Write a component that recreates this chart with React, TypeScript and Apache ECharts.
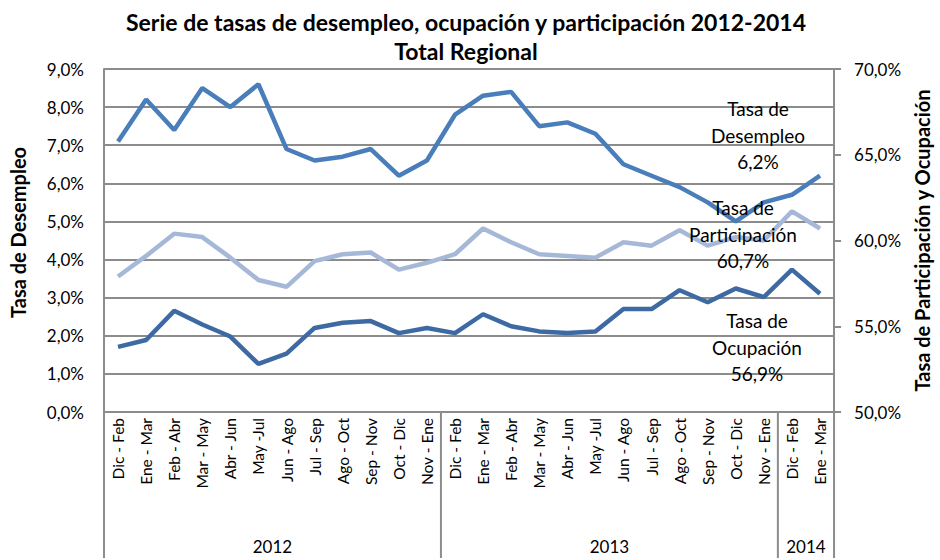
import React, { useEffect, useRef } from "react";
import * as echarts from "echarts";

const categories = [
  "Dic - Feb", "Ene - Mar", "Feb - Abr", "Mar - May", "Abr - Jun", "May -Jul",
  "Jun - Ago", "Jul - Sep", "Ago - Oct", "Sep - Nov", "Oct - Dic", "Nov - Ene",
  "Dic - Feb", "Ene - Mar", "Feb - Abr", "Mar - May", "Abr - Jun", "May -Jul",
  "Jun - Ago", "Jul - Sep", "Ago - Oct", "Sep - Nov", "Oct - Dic", "Nov - Ene",
  "Dic - Feb", "Ene - Mar",
];
const years = ["2012", "2013", "2014"];
const yearSpans = [12, 12, 2];

const desempleo = [7.1, 8.2, 7.4, 8.5, 8.0, 8.6, 6.9, 6.6, 6.7, 6.9, 6.2, 6.6, 7.8, 8.3, 8.4, 7.5, 7.6, 7.3, 6.5, 6.2, 5.9, 5.5, 5.0, 5.5, 5.7, 6.2];
const participacion = [57.9, 59.1, 60.4, 60.2, 59.0, 57.7, 57.3, 58.8, 59.2, 59.3, 58.3, 58.7, 59.2, 60.7, 59.9, 59.2, 59.1, 59.0, 59.9, 59.7, 60.6, 59.7, 60.2, 60.0, 61.7, 60.7];
const ocupacion = [53.8, 54.2, 55.9, 55.1, 54.4, 52.8, 53.4, 54.9, 55.2, 55.3, 54.6, 54.9, 54.6, 55.7, 55.0, 54.7, 54.6, 54.7, 56.0, 56.0, 57.1, 56.4, 57.2, 56.7, 58.3, 56.9];

const FONT = "Lato, 'Open Sans', sans-serif";
const GRAY = "#8c8c8c";
const fmt = (v: number) => v.toFixed(1).replace(".", ",") + "%";

export default function App() {
  const ref = useRef<HTMLDivElement>(null);
  useEffect(() => {
    if (!ref.current) return;
    const chart = echarts.init(ref.current, null, { renderer: "svg" });
    const option: any = {
      animation: false,
      backgroundColor: "#ffffff",
      title: {
        text: "Serie de tasas de desempleo, ocupación y participación 2012-2014\nTotal Regional",
        left: 461,
        top: 2,
        textAlign: "center",
        textStyle: { fontFamily: FONT, fontWeight: "bold", fontSize: 23, color: "#000", lineHeight: 29 },
      },
      grid: { left: 104, right: 93, top: 69, bottom: 148, containLabel: false },
      xAxis: {
        type: "category",
        data: categories,
        boundaryGap: true,
        axisLine: { show: true, lineStyle: { color: GRAY, width: 2 } },
        axisTick: { show: false },
        axisLabel: { rotate: 90, margin: 6, fontFamily: FONT, fontSize: 15.5, color: "#000", interval: 0 },
        splitLine: { show: false },
      },
      yAxis: [
        {
          type: "value",
          min: 0, max: 9, interval: 1,
          name: "Tasa de Desempleo",
          nameLocation: "middle",
          nameGap: 76,
          nameRotate: 90,
          nameTextStyle: { fontFamily: FONT, fontWeight: "bold", fontSize: 20, color: "#000", padding: [0, 0, 0, 16] },
          axisLine: { show: true, lineStyle: { color: GRAY, width: 2 } },
          axisTick: { show: false },
          axisLabel: { formatter: fmt, fontFamily: FONT, fontSize: 17, color: "#000", margin: 20 },
          splitLine: { show: true, lineStyle: { color: GRAY, width: 2 } },
        },
        {
          type: "value",
          min: 50, max: 70, interval: 5,
          position: "right",
          name: "Tasa de Participación y Ocupación",
          nameLocation: "middle",
          nameGap: 76,
          nameRotate: 90,
          nameTextStyle: { fontFamily: FONT, fontWeight: "bold", fontSize: 20, color: "#000", padding: [0, 0, 8, 0] },
          axisLine: { show: true, lineStyle: { color: GRAY, width: 2 } },
          axisTick: { show: true, inside: false, length: 7, lineStyle: { color: GRAY, width: 2 } },
          axisLabel: { formatter: fmt, fontFamily: FONT, fontSize: 17, color: "#000", margin: 20 },
          splitLine: { show: false },
        },
      ],
      series: [
        {
          name: "Tasa de Participación",
          type: "line",
          yAxisIndex: 1,
          data: participacion,
          symbol: "none",
          lineStyle: { color: "#a6b8d8", width: 4.5 },
          z: 2,
        },
        {
          name: "Tasa de Ocupación",
          type: "line",
          yAxisIndex: 1,
          data: ocupacion,
          symbol: "none",
          lineStyle: { color: "#3e6aa3", width: 4.5 },
          z: 3,
        },
        {
          name: "Tasa de Desempleo",
          type: "line",
          yAxisIndex: 0,
          data: desempleo,
          symbol: "none",
          lineStyle: { color: "#4a7ebb", width: 4.5 },
          z: 4,
        },
      ],
    };
    chart.setOption(option);

    // Build group separators and year labels from the axis scale
    const px = (i: number) => chart.convertToPixel({ xAxisIndex: 0 }, i) as number;
    const step = px(1) - px(0);
    const boundaries: number[] = [];
    let acc = 0;
    boundaries.push(px(0) - step / 2);
    yearSpans.forEach((s) => {
      acc += s;
      boundaries.push(px(acc - 1) + step / 2);
    });
    const axisY = chart.convertToPixel({ yAxisIndex: 0 }, 0) as number;
    const bottomY = 558;
    const graphics: any[] = [];
    boundaries.forEach((bx) => {
      graphics.push({
        type: "line",
        shape: { x1: bx, y1: axisY, x2: bx, y2: bottomY },
        style: { stroke: GRAY, lineWidth: 2 },
        z: 10,
      });
    });
    years.forEach((y, k) => {
      const cx = (boundaries[k] + boundaries[k + 1]) / 2;
      graphics.push({
        type: "text",
        x: cx,
        y: 546,
        style: { text: y, fontFamily: FONT, fontSize: 17, fill: "#000", align: "center", verticalAlign: "middle" },
        z: 10,
      });
    });
    const labelStyle = { fontFamily: FONT, fontSize: 19, fill: "#000", align: "center", verticalAlign: "middle", lineHeight: 26.5 };
    graphics.push({
      type: "text", x: 758, y: 135,
      style: { ...labelStyle, text: "Tasa de\nDesempleo\n" + fmt(desempleo[desempleo.length - 1]) },
      z: 20,
    });
    graphics.push({
      type: "text", x: 743, y: 234,
      style: { ...labelStyle, text: "Tasa de\nParticipación\n" + fmt(participacion[participacion.length - 1]) },
      z: 20,
    });
    graphics.push({
      type: "text", x: 757, y: 347,
      style: { ...labelStyle, text: "Tasa de\nOcupación\n" + fmt(ocupacion[ocupacion.length - 1]) },
      z: 20,
    });
    chart.setOption({ graphic: graphics });

    return () => chart.dispose();
  }, []);
  return (
    <div
      ref={ref}
      style={{ position: "fixed", left: 0, top: 0, width: 940, height: 560, background: "#fff" }}
    />
  );
}
